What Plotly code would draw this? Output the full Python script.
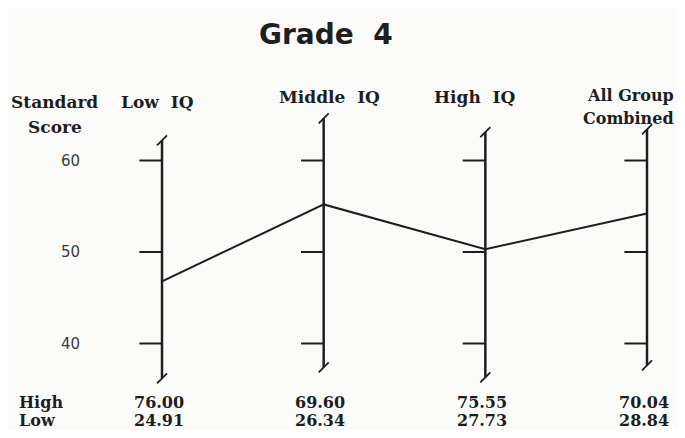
import plotly.graph_objects as go

# ---- data ----
groups = ["Low  IQ", "Middle  IQ", "High  IQ", "All Group<br>Combined"]
mean_scores = [46.8, 55.2, 50.3, 54.2]
high_values = ["76.00", "69.60", "75.55", "70.04"]
low_values = ["24.91", "26.34", "27.73", "28.84"]
tick_values = [40, 50, 60]
axis_tops = [62.2, 64.6, 63.1, 63.4]
axis_bottoms = [36.2, 37.4, 36.3, 37.6]

# figure sized to the visible page area (window minus the 8px page margin)
OFF = 8
W, H = 685 - 2 * OFF, 438 - 2 * OFF
X_RANGE = [-0.9526, 3.1855]
Y_RANGE = [30.546, 76.667]
ink = "#1e1e1e"
serif = "DejaVu Serif"
bg = "#fbfbfa"

fig = go.Figure()
xs = list(range(len(groups)))

# vertical group axes with ticks
for i in xs:
    fig.add_trace(go.Scatter(x=[i, i], y=[axis_bottoms[i], axis_tops[i]], mode="lines",
                             line=dict(color=ink, width=2.5), hoverinfo="skip", showlegend=False))
    fig.add_trace(go.Scatter(x=[i, i], y=[axis_bottoms[i], axis_tops[i]], mode="markers",
                             marker=dict(symbol="line-ne", size=10, line=dict(color=ink, width=1.8)),
                             hoverinfo="skip", showlegend=False))
    tx, ty = [], []
    for t in tick_values:
        tx += [i - 0.14, i, None]
        ty += [t, t, None]
    fig.add_trace(go.Scatter(x=tx, y=ty, mode="lines", line=dict(color=ink, width=2),
                             hoverinfo="skip", showlegend=False))

# profile line
fig.add_trace(go.Scatter(x=xs, y=mean_scores, mode="lines", line=dict(color=ink, width=2),
                         hoverinfo="skip", showlegend=False))

ann = []
def px(xp):
    return (xp - OFF) / W
def py(yp):
    return 1 - (yp - OFF) / H

def txt(x, y, s, size=17, family=serif, bold=True, xref="paper", yref="paper", color=ink, xanchor="center"):
    ann.append(dict(x=x, y=y, xref=xref, yref=yref, text=("<b>%s</b>" % s) if bold else s,
                    showarrow=False, xanchor=xanchor, yanchor="middle",
                    font=dict(family=family, size=size, color=color)))

# title
txt(px(326), py(35), "Grade&nbsp;&nbsp;4", size=28, family="DejaVu Sans")
# left header
txt(px(54), py(102), "Standard")
txt(px(55), py(127), "Score")
# group headers
head_x = [157, 329, 475, 676]
head_y = [102, 97, 97, 96]
for i, g in enumerate(groups):
    parts = g.split("<br>")
    for k, p in enumerate(parts):
        if i == 3:
            txt(px(head_x[i]), py(head_y[i] + 22 * k), p, size=16, xanchor="right")
        else:
            txt(px(head_x[i]), py(head_y[i] + 25 * k), p.replace("  ", "&nbsp;&nbsp;"))
# tick labels
for t in tick_values:
    txt(px(71), t, str(t), size=15, family="DejaVu Sans", bold=False, yref="y", color="#3a3a3a")
# High / Low rows
row_high, row_low = 402, 420
txt(px(17), py(row_high), "High", size=16, xanchor="left")
txt(px(17), py(row_low), "Low", size=16, xanchor="left")
for i in xs:
    txt(i - 0.02, py(row_high), high_values[i], size=16, xref="x")
    txt(i - 0.02, py(row_low), low_values[i], size=16, xref="x")

fig.update_layout(
    width=W, height=H,
    margin=dict(l=0, r=0, t=0, b=0),
    paper_bgcolor=bg, plot_bgcolor=bg,
    xaxis=dict(range=X_RANGE, visible=False, fixedrange=True),
    yaxis=dict(range=Y_RANGE, visible=False, fixedrange=True),
    annotations=ann,
    showlegend=False,
)

fig.write_html("out.html")
